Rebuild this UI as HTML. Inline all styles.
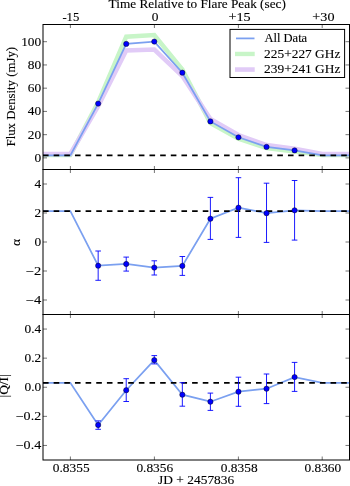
<!DOCTYPE html><html><head><meta charset="utf-8"><style>html,body{margin:0;padding:0;background:#fff;}svg{display:block;will-change:transform;}text{font-family:"Liberation Serif",serif;font-size:11.50px;fill:#000;stroke:#000;stroke-width:0.1px;}</style></head><body>
<svg width="350" height="486" viewBox="0 0 350 486">
<rect width="350" height="486" fill="#fff"/>
<clipPath id="c0"><rect x="43.0" y="24.5" width="306.5" height="145.0"/></clipPath>
<clipPath id="c1"><rect x="43.0" y="169.5" width="306.5" height="145.0"/></clipPath>
<clipPath id="c2"><rect x="43.0" y="314.5" width="306.5" height="145.5"/></clipPath>
<g clip-path="url(#c0)" fill="none">
<polyline points="43.00,155.00 70.35,155.00 98.16,102.20 126.22,36.70 154.28,35.10 182.34,69.50 210.40,123.00 238.46,138.60 266.52,148.00 294.58,151.50 322.40,155.00 349.50,155.00" stroke="#c8f5c8" stroke-width="4.5"/>
<polyline points="43.00,154.00 70.35,154.00 98.16,106.30 126.22,50.40 154.28,49.60 182.34,76.00 210.40,119.00 238.46,135.00 266.52,145.00 294.58,148.60 322.40,154.00 349.50,154.00" stroke="#e1cbf7" stroke-width="4.5"/>
<polyline points="43.00,155.30 70.35,155.30 98.16,103.60 126.22,43.90 154.28,41.60 182.34,72.70 210.40,121.40 238.46,137.30 266.52,146.90 294.58,150.40 322.40,155.30 349.50,155.30" stroke="#7ba0f0" stroke-width="1.75"/>
</g>
<g clip-path="url(#c1)" fill="none"><polyline points="43.00,211.10 70.35,211.10 98.16,265.70 126.22,264.00 154.28,267.60 182.34,265.90 210.40,218.70 238.46,207.70 266.52,213.20 294.58,210.30 322.40,211.10 349.50,211.10" stroke="#7ba0f0" stroke-width="1.75"/></g>
<g clip-path="url(#c2)" fill="none"><polyline points="43.00,382.80 70.35,382.80 98.16,425.00 126.22,390.20 154.28,360.10 182.34,394.70 210.40,401.70 238.46,391.70 266.52,388.70 294.58,377.10 322.40,382.80 349.50,382.80" stroke="#7ba0f0" stroke-width="1.75"/></g>
<line x1="43.0" y1="155.3" x2="349.5" y2="155.3" stroke="#000" stroke-width="1.7" stroke-dasharray="5.6 5.05"/>
<line x1="43.0" y1="211.1" x2="349.5" y2="211.1" stroke="#000" stroke-width="1.7" stroke-dasharray="5.6 5.05"/>
<line x1="43.0" y1="382.8" x2="349.5" y2="382.8" stroke="#000" stroke-width="1.7" stroke-dasharray="5.6 5.05"/>
<g stroke="#0000ff" stroke-width="0.9"><line x1="98.16" y1="251.0" x2="98.16" y2="280.3"/><line x1="95.36" y1="251.0" x2="100.96" y2="251.0"/><line x1="95.36" y1="280.3" x2="100.96" y2="280.3"/><line x1="126.22" y1="257.1" x2="126.22" y2="271.1"/><line x1="123.42" y1="257.1" x2="129.02" y2="257.1"/><line x1="123.42" y1="271.1" x2="129.02" y2="271.1"/><line x1="154.28" y1="260.8" x2="154.28" y2="275.0"/><line x1="151.48" y1="260.8" x2="157.08" y2="260.8"/><line x1="151.48" y1="275.0" x2="157.08" y2="275.0"/><line x1="182.34" y1="256.5" x2="182.34" y2="275.4"/><line x1="179.54" y1="256.5" x2="185.14" y2="256.5"/><line x1="179.54" y1="275.4" x2="185.14" y2="275.4"/><line x1="210.40" y1="197.4" x2="210.40" y2="239.4"/><line x1="207.60" y1="197.4" x2="213.20" y2="197.4"/><line x1="207.60" y1="239.4" x2="213.20" y2="239.4"/><line x1="238.46" y1="177.7" x2="238.46" y2="237.4"/><line x1="235.66" y1="177.7" x2="241.26" y2="177.7"/><line x1="235.66" y1="237.4" x2="241.26" y2="237.4"/><line x1="266.52" y1="183.2" x2="266.52" y2="242.4"/><line x1="263.72" y1="183.2" x2="269.32" y2="183.2"/><line x1="263.72" y1="242.4" x2="269.32" y2="242.4"/><line x1="294.58" y1="180.5" x2="294.58" y2="240.1"/><line x1="291.78" y1="180.5" x2="297.38" y2="180.5"/><line x1="291.78" y1="240.1" x2="297.38" y2="240.1"/></g>
<g stroke="#0000ff" stroke-width="0.9"><line x1="98.16" y1="420.9" x2="98.16" y2="429.3"/><line x1="95.36" y1="420.9" x2="100.96" y2="420.9"/><line x1="95.36" y1="429.3" x2="100.96" y2="429.3"/><line x1="126.22" y1="378.7" x2="126.22" y2="401.5"/><line x1="123.42" y1="378.7" x2="129.02" y2="378.7"/><line x1="123.42" y1="401.5" x2="129.02" y2="401.5"/><line x1="154.28" y1="355.6" x2="154.28" y2="363.9"/><line x1="151.48" y1="355.6" x2="157.08" y2="355.6"/><line x1="151.48" y1="363.9" x2="157.08" y2="363.9"/><line x1="182.34" y1="382.7" x2="182.34" y2="406.2"/><line x1="179.54" y1="382.7" x2="185.14" y2="382.7"/><line x1="179.54" y1="406.2" x2="185.14" y2="406.2"/><line x1="210.40" y1="393.1" x2="210.40" y2="410.4"/><line x1="207.60" y1="393.1" x2="213.20" y2="393.1"/><line x1="207.60" y1="410.4" x2="213.20" y2="410.4"/><line x1="238.46" y1="377.2" x2="238.46" y2="406.3"/><line x1="235.66" y1="377.2" x2="241.26" y2="377.2"/><line x1="235.66" y1="406.3" x2="241.26" y2="406.3"/><line x1="266.52" y1="374.0" x2="266.52" y2="403.6"/><line x1="263.72" y1="374.0" x2="269.32" y2="374.0"/><line x1="263.72" y1="403.6" x2="269.32" y2="403.6"/><line x1="294.58" y1="362.4" x2="294.58" y2="391.4"/><line x1="291.78" y1="362.4" x2="297.38" y2="362.4"/><line x1="291.78" y1="391.4" x2="297.38" y2="391.4"/></g>
<g fill="#0000ff" stroke="#000" stroke-width="0.44"><circle cx="98.16" cy="103.6" r="2.64"/><circle cx="126.22" cy="43.9" r="2.64"/><circle cx="154.28" cy="41.6" r="2.64"/><circle cx="182.34" cy="72.7" r="2.64"/><circle cx="210.40" cy="121.4" r="2.64"/><circle cx="238.46" cy="137.3" r="2.64"/><circle cx="266.52" cy="146.9" r="2.64"/><circle cx="294.58" cy="150.4" r="2.64"/></g>
<g fill="#0000ff" stroke="#000" stroke-width="0.44"><circle cx="98.16" cy="265.7" r="2.64"/><circle cx="126.22" cy="264.0" r="2.64"/><circle cx="154.28" cy="267.6" r="2.64"/><circle cx="182.34" cy="265.9" r="2.64"/><circle cx="210.40" cy="218.7" r="2.64"/><circle cx="238.46" cy="207.7" r="2.64"/><circle cx="266.52" cy="213.2" r="2.64"/><circle cx="294.58" cy="210.3" r="2.64"/></g>
<g fill="#0000ff" stroke="#000" stroke-width="0.44"><circle cx="98.16" cy="425.0" r="2.64"/><circle cx="126.22" cy="390.2" r="2.64"/><circle cx="154.28" cy="360.1" r="2.64"/><circle cx="182.34" cy="394.7" r="2.64"/><circle cx="210.40" cy="401.7" r="2.64"/><circle cx="238.46" cy="391.7" r="2.64"/><circle cx="266.52" cy="388.7" r="2.64"/><circle cx="294.58" cy="377.1" r="2.64"/></g>
<rect x="43.0" y="24.5" width="306.5" height="145.0" fill="none" stroke="#000" stroke-width="1"/>
<rect x="43.0" y="169.5" width="306.5" height="145.0" fill="none" stroke="#000" stroke-width="1"/>
<rect x="43.0" y="314.5" width="306.5" height="145.5" fill="none" stroke="#000" stroke-width="1"/>
<g stroke="#000" stroke-width="0.55"><line x1="70.40" y1="24.5" x2="70.40" y2="28.0"/><line x1="70.40" y1="169.5" x2="70.40" y2="166.0"/><line x1="154.40" y1="24.5" x2="154.40" y2="28.0"/><line x1="154.40" y1="169.5" x2="154.40" y2="166.0"/><line x1="238.40" y1="24.5" x2="238.40" y2="28.0"/><line x1="238.40" y1="169.5" x2="238.40" y2="166.0"/><line x1="322.20" y1="24.5" x2="322.20" y2="28.0"/><line x1="322.20" y1="169.5" x2="322.20" y2="166.0"/><line x1="70.40" y1="169.5" x2="70.40" y2="173.0"/><line x1="70.40" y1="314.5" x2="70.40" y2="311.0"/><line x1="154.40" y1="169.5" x2="154.40" y2="173.0"/><line x1="154.40" y1="314.5" x2="154.40" y2="311.0"/><line x1="238.40" y1="169.5" x2="238.40" y2="173.0"/><line x1="238.40" y1="314.5" x2="238.40" y2="311.0"/><line x1="322.20" y1="169.5" x2="322.20" y2="173.0"/><line x1="322.20" y1="314.5" x2="322.20" y2="311.0"/><line x1="70.40" y1="314.5" x2="70.40" y2="318.0"/><line x1="70.40" y1="460.0" x2="70.40" y2="456.5"/><line x1="154.40" y1="314.5" x2="154.40" y2="318.0"/><line x1="154.40" y1="460.0" x2="154.40" y2="456.5"/><line x1="238.40" y1="314.5" x2="238.40" y2="318.0"/><line x1="238.40" y1="460.0" x2="238.40" y2="456.5"/><line x1="322.20" y1="314.5" x2="322.20" y2="318.0"/><line x1="322.20" y1="460.0" x2="322.20" y2="456.5"/><line x1="43.0" y1="157.90" x2="47.0" y2="157.90"/><line x1="349.5" y1="157.90" x2="345.5" y2="157.90"/><line x1="43.0" y1="134.66" x2="47.0" y2="134.66"/><line x1="349.5" y1="134.66" x2="345.5" y2="134.66"/><line x1="43.0" y1="111.42" x2="47.0" y2="111.42"/><line x1="349.5" y1="111.42" x2="345.5" y2="111.42"/><line x1="43.0" y1="88.18" x2="47.0" y2="88.18"/><line x1="349.5" y1="88.18" x2="345.5" y2="88.18"/><line x1="43.0" y1="64.94" x2="47.0" y2="64.94"/><line x1="349.5" y1="64.94" x2="345.5" y2="64.94"/><line x1="43.0" y1="41.70" x2="47.0" y2="41.70"/><line x1="349.5" y1="41.70" x2="345.5" y2="41.70"/><line x1="43.0" y1="300.00" x2="47.0" y2="300.00"/><line x1="349.5" y1="300.00" x2="345.5" y2="300.00"/><line x1="43.0" y1="271.00" x2="47.0" y2="271.00"/><line x1="349.5" y1="271.00" x2="345.5" y2="271.00"/><line x1="43.0" y1="242.00" x2="47.0" y2="242.00"/><line x1="349.5" y1="242.00" x2="345.5" y2="242.00"/><line x1="43.0" y1="213.00" x2="47.0" y2="213.00"/><line x1="349.5" y1="213.00" x2="345.5" y2="213.00"/><line x1="43.0" y1="184.00" x2="47.0" y2="184.00"/><line x1="349.5" y1="184.00" x2="345.5" y2="184.00"/><line x1="43.0" y1="445.45" x2="47.0" y2="445.45"/><line x1="349.5" y1="445.45" x2="345.5" y2="445.45"/><line x1="43.0" y1="416.35" x2="47.0" y2="416.35"/><line x1="349.5" y1="416.35" x2="345.5" y2="416.35"/><line x1="43.0" y1="387.25" x2="47.0" y2="387.25"/><line x1="349.5" y1="387.25" x2="345.5" y2="387.25"/><line x1="43.0" y1="358.15" x2="47.0" y2="358.15"/><line x1="349.5" y1="358.15" x2="345.5" y2="358.15"/><line x1="43.0" y1="329.05" x2="47.0" y2="329.05"/><line x1="349.5" y1="329.05" x2="345.5" y2="329.05"/></g>
<text x="34.52" y="161.75" textLength="6.68" lengthAdjust="spacingAndGlyphs">0</text>
<text x="27.84" y="138.51" textLength="13.36" lengthAdjust="spacingAndGlyphs">20</text>
<text x="27.84" y="115.27" textLength="13.36" lengthAdjust="spacingAndGlyphs">40</text>
<text x="27.84" y="92.03" textLength="13.36" lengthAdjust="spacingAndGlyphs">60</text>
<text x="27.84" y="68.79" textLength="13.36" lengthAdjust="spacingAndGlyphs">80</text>
<text x="21.16" y="45.55" textLength="20.04" lengthAdjust="spacingAndGlyphs">100</text>
<text x="25.72" y="303.85" textLength="15.48" lengthAdjust="spacingAndGlyphs">−4</text>
<text x="25.72" y="274.85" textLength="15.48" lengthAdjust="spacingAndGlyphs">−2</text>
<text x="34.52" y="245.85" textLength="6.68" lengthAdjust="spacingAndGlyphs">0</text>
<text x="34.52" y="216.85" textLength="6.68" lengthAdjust="spacingAndGlyphs">2</text>
<text x="34.52" y="187.85" textLength="6.68" lengthAdjust="spacingAndGlyphs">4</text>
<text x="15.70" y="449.30" textLength="25.50" lengthAdjust="spacingAndGlyphs">−0.4</text>
<text x="15.70" y="420.20" textLength="25.50" lengthAdjust="spacingAndGlyphs">−0.2</text>
<text x="24.50" y="391.10" textLength="16.70" lengthAdjust="spacingAndGlyphs">0.0</text>
<text x="24.50" y="362.00" textLength="16.70" lengthAdjust="spacingAndGlyphs">0.2</text>
<text x="24.50" y="332.90" textLength="16.70" lengthAdjust="spacingAndGlyphs">0.4</text>
<text x="62.40" y="20.70" textLength="16.91" lengthAdjust="spacingAndGlyphs">-15</text>
<text x="151.81" y="20.70" textLength="6.68" lengthAdjust="spacingAndGlyphs">0</text>
<text x="228.52" y="20.70" textLength="22.16" lengthAdjust="spacingAndGlyphs">+15</text>
<text x="312.37" y="20.70" textLength="22.16" lengthAdjust="spacingAndGlyphs">+30</text>
<text x="52.83" y="471.80" textLength="36.74" lengthAdjust="spacingAndGlyphs">0.8355</text>
<text x="136.43" y="471.80" textLength="36.74" lengthAdjust="spacingAndGlyphs">0.8356</text>
<text x="220.83" y="471.80" textLength="36.74" lengthAdjust="spacingAndGlyphs">0.8358</text>
<text x="304.48" y="471.80" textLength="36.74" lengthAdjust="spacingAndGlyphs">0.8360</text>
<text x="108.60" y="8.20" textLength="177.23" lengthAdjust="spacingAndGlyphs">Time Relative to Flare Peak (sec)</text>
<text x="158.10" y="483.80" textLength="76.18" lengthAdjust="spacingAndGlyphs">JD + 2457836</text>
<g transform="translate(15.10 96.70) rotate(-90)"><text x="-49.76" y="0" textLength="99.53" lengthAdjust="spacingAndGlyphs">Flux Density (mJy)</text></g>
<g transform="translate(19.90 242.50) rotate(-90)"><text x="-3.55" y="0" textLength="7.09" lengthAdjust="spacingAndGlyphs">α</text></g>
<g transform="translate(8.40 385.90) rotate(-90)"><text x="-11.68" y="0" textLength="23.37" lengthAdjust="spacingAndGlyphs">|Q/I|</text></g>
<rect x="230.0" y="29.4" width="114.60000000000002" height="48.1" fill="#fff" stroke="#000" stroke-width="1"/>
<line x1="236" y1="38.4" x2="254.5" y2="38.4" stroke="#7ba0f0" stroke-width="1.75"/>
<line x1="235" y1="53.95" x2="254.7" y2="53.95" stroke="#c8f5c8" stroke-width="4.4"/>
<line x1="235" y1="69.55" x2="254.7" y2="69.55" stroke="#e1cbf7" stroke-width="4.6"/>
<text x="264.40" y="42.10" textLength="42.79" lengthAdjust="spacingAndGlyphs">All Data</text>
<text x="264.08" y="57.70" textLength="76.31" lengthAdjust="spacingAndGlyphs">225+227 GHz</text>
<text x="264.08" y="73.20" textLength="76.31" lengthAdjust="spacingAndGlyphs">239+241 GHz</text>
</svg></body></html>
